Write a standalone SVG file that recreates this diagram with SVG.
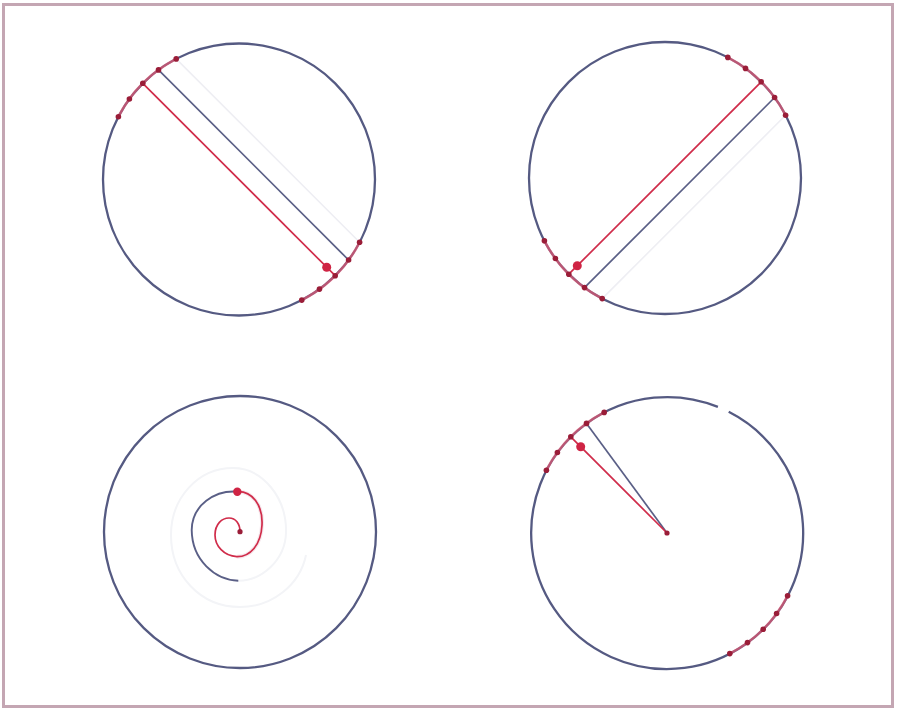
<svg xmlns="http://www.w3.org/2000/svg" width="897" height="711" viewBox="0 0 897 711">
<style>
.ring{fill:none;stroke:#555a82;stroke-width:2.3}
.hl{fill:none;stroke:#e3566f;stroke-width:2.6;stroke-opacity:0.7}
.red{fill:none;stroke:#d02c4a;stroke-width:1.7}
.blue{fill:none;stroke:#5a5f86;stroke-width:1.7}
.faint{fill:none;stroke:#eeeef3;stroke-width:1.6}
.dot{fill:#9a1d38}
.big{fill:#cf2444}
</style>
<rect x="3.5" y="4.5" width="889" height="702" fill="#ffffff" stroke="#c4a6b3" stroke-width="3"/>
<g id="panel-top-left">
<circle class="ring" cx="239" cy="179.5" r="136"/>
<path class="hl" d="M176.2,58.9 A136,136 0 0 0 118.4,116.7"/>
<path class="hl" d="M359.6,242.3 A136,136 0 0 1 301.8,300.1"/>
<line class="faint" x1="176.2" y1="58.9" x2="359.6" y2="242.3"/>
<line class="blue" x1="158.5" y1="69.9" x2="348.6" y2="260"/>
<line class="red" x1="142.8" y1="83.3" x2="335.2" y2="275.7"/>
<circle class="big" cx="326.7" cy="267.2" r="4.5"/>
<g class="dot">
<circle cx="176.2" cy="58.9" r="2.8"/><circle cx="158.5" cy="69.9" r="2.8"/><circle cx="142.8" cy="83.3" r="2.8"/><circle cx="129.4" cy="99" r="2.8"/><circle cx="118.4" cy="116.7" r="2.8"/>
<circle cx="359.6" cy="242.3" r="2.8"/><circle cx="348.6" cy="260" r="2.8"/><circle cx="335.2" cy="275.7" r="2.8"/><circle cx="319.5" cy="289.1" r="2.8"/><circle cx="301.8" cy="300.1" r="2.8"/>
</g>
</g>
<g id="panel-top-right">
<circle class="ring" cx="665" cy="178" r="136"/>
<path class="hl" d="M785.6,115.2 A136,136 0 0 0 727.8,57.4"/>
<path class="hl" d="M602.2,298.6 A136,136 0 0 1 544.4,240.8"/>
<line class="faint" x1="785.6" y1="115.2" x2="602.2" y2="298.6"/>
<line class="blue" x1="774.6" y1="97.5" x2="584.5" y2="287.6"/>
<line class="red" x1="761.2" y1="81.8" x2="568.8" y2="274.2"/>
<circle class="big" cx="577.3" cy="265.7" r="4.5"/>
<g class="dot">
<circle cx="785.6" cy="115.2" r="2.8"/><circle cx="774.6" cy="97.5" r="2.8"/><circle cx="761.2" cy="81.8" r="2.8"/><circle cx="745.5" cy="68.4" r="2.8"/><circle cx="727.8" cy="57.4" r="2.8"/>
<circle cx="602.2" cy="298.6" r="2.8"/><circle cx="584.5" cy="287.6" r="2.8"/><circle cx="568.8" cy="274.2" r="2.8"/><circle cx="555.4" cy="258.5" r="2.8"/><circle cx="544.4" cy="240.8" r="2.8"/>
</g>
</g>
<g id="panel-bottom-left">
<circle class="ring" cx="240" cy="532" r="136"/>
<path fill="none" stroke="#f3f4f7" stroke-width="2" d="M238.3,580.7 C262,581 285,560 286,533 C287,497 262,468 233,468 C198,468 171,498 171,535 C171,575 200,607 240,607 C272,607 300,585 306,555"/>
<path fill="none" stroke="#f6e8ed" stroke-width="4" d="M237.3,491.7 C252,491 263,505 262,525 C261,545 250,557 236.7,556.7"/>
<path class="red" d="M237.3,491.7 C252,491 263,505 262,525 C261,545 250,557 236.7,556.7 C224,556 215,546 215,535 C215,524 222,518 229,518 C236,518 240,524 240,531.7"/>
<path fill="none" stroke="#5a5f86" stroke-width="1.9" d="M237.3,491.7 C215,490 192,505 191.7,530 C192,560 215,580 238.3,580.7"/>
<circle class="big" cx="237.3" cy="491.7" r="4.2"/>
<circle class="dot" cx="240" cy="531.7" r="2.6"/>
</g>
<g id="panel-bottom-right">
<path class="ring" d="M728.7,411.8 A136,136 0 1 1 717.9,406.9"/>
<path class="hl" d="M604.2,412.4 A136,136 0 0 0 546.4,470.2"/>
<path class="hl" d="M787.6,595.8 A136,136 0 0 1 729.8,653.6"/>
<line class="blue" x1="667" y1="533" x2="586.5" y2="423.4"/>
<line class="red" x1="667" y1="533" x2="570.8" y2="436.8"/>
<circle class="big" cx="580.7" cy="446.7" r="4.5"/>
<circle class="dot" cx="667" cy="533" r="2.6"/>
<g class="dot">
<circle cx="604.2" cy="412.4" r="2.8"/><circle cx="586.5" cy="423.4" r="2.8"/><circle cx="570.8" cy="436.8" r="2.8"/><circle cx="557.4" cy="452.5" r="2.8"/><circle cx="546.4" cy="470.2" r="2.8"/>
<circle cx="787.6" cy="595.8" r="2.8"/><circle cx="776.6" cy="613.5" r="2.8"/><circle cx="763.2" cy="629.2" r="2.8"/><circle cx="747.5" cy="642.6" r="2.8"/><circle cx="729.8" cy="653.6" r="2.8"/>
</g>
</g>
</svg>
